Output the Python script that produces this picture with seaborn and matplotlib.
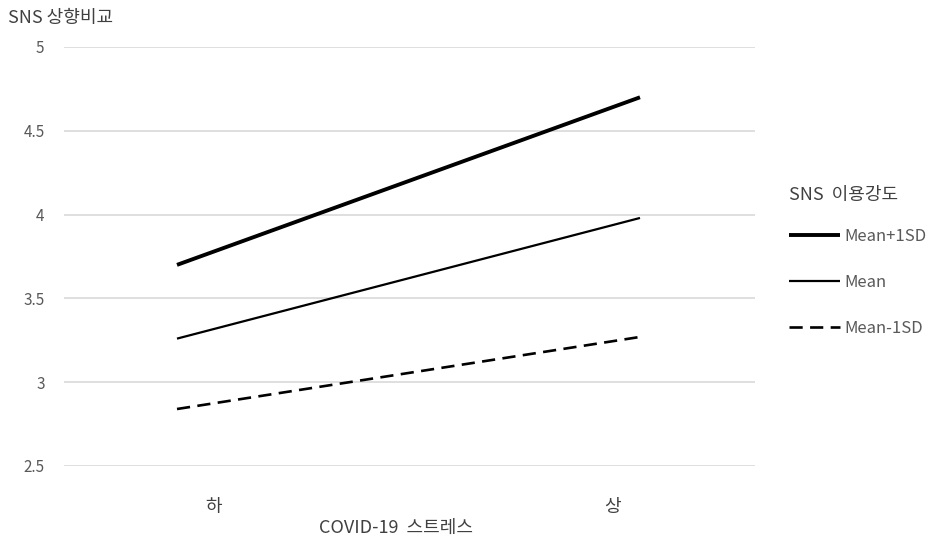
import matplotlib
matplotlib.use("Agg")
import matplotlib.pyplot as plt
import seaborn as sns
import pandas as pd

# Data
categories = ["하", "상"]
x_pos = [0, 1]
tick_pos = [0.08, 0.94]
series_names = ["Mean+1SD", "Mean", "Mean-1SD"]
mean_plus = [3.70, 4.70]
mean_mid = [3.26, 3.98]
mean_minus = [2.84, 3.27]
y_ticks = [2.5, 3, 3.5, 4, 4.5, 5]
y_tick_labels = ["2.5", "3", "3.5", "4", "4.5", "5"]

sns.set_theme(style="white")
plt.rcParams["font.family"] = ["Noto Sans CJK KR", "DejaVu Sans"]

fig = plt.figure(figsize=(9.29, 5.42), dpi=100)
ax = fig.add_axes([64/929, 1-466/542, (755-64)/929, (466-47)/542])

styles = {
    "Mean+1SD": dict(lw=2.8, ls="-"),
    "Mean": dict(lw=1.6, ls="-"),
    "Mean-1SD": dict(lw=1.9, ls=(0, (5, 2.8))),
}
values = {"Mean+1SD": mean_plus, "Mean": mean_mid, "Mean-1SD": mean_minus}

for name in series_names:
    df = pd.DataFrame({"x": x_pos, "y": values[name]})
    sns.lineplot(data=df, x="x", y="y", ax=ax, color="black",
                 linewidth=styles[name]["lw"], linestyle=styles[name]["ls"],
                 label=name, solid_capstyle="butt", dash_capstyle="butt")

ax.set_ylim(2.5, 5)
ax.set_xlim(-(177-64)/463, 1 + (755-640)/463)
ax.set_yticks(y_ticks)
ax.set_yticklabels(y_tick_labels)
ax.set_xticks(tick_pos)
ax.set_xticklabels(categories)
ax.yaxis.grid(True, color="#d9d9d9", linewidth=1.2)
ax.xaxis.grid(False)
for s in ax.spines.values():
    s.set_visible(False)
ax.tick_params(axis="y", colors="#595959", labelsize=11, length=0, pad=14)
ax.tick_params(axis="x", colors="#404040", labelsize=13, length=0, pad=23)
ax.set_xlabel("")
ax.set_ylabel("")

fig.text(8/929, 1-18/542, "SNS 상향비교", fontsize=13, color="#404040",
         ha="left", va="center")
fig.text(396/929, 1-528/542, "COVID-19  스트레스", fontsize=13, color="#404040",
         ha="center", va="center")

leg = ax.legend(loc="upper left", bbox_to_anchor=(774/929, 1-171/542),
                bbox_transform=fig.transFigure, frameon=False,
                title="SNS  이용강도", fontsize=12, title_fontsize=13,
                handlelength=3.05, handletextpad=0.25, labelspacing=1.72,
                alignment="left")
for t in leg.get_texts():
    t.set_color("#595959")
leg.get_title().set_color("#404040")
leg._legend_box.sep = 17.5

fig.savefig("out.png", dpi=100)
